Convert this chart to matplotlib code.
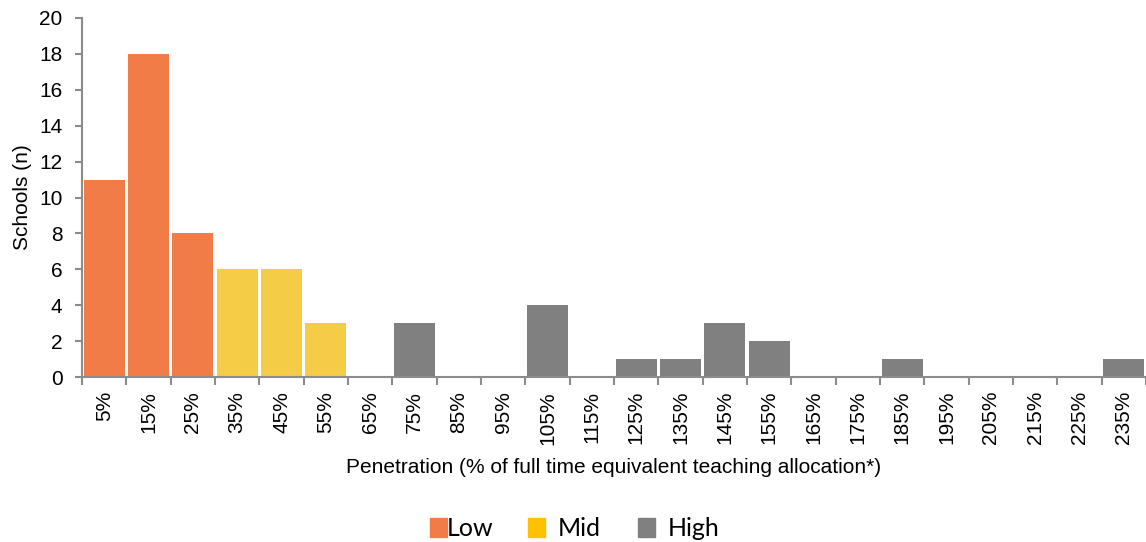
import matplotlib
matplotlib.use("Agg")
import matplotlib.pyplot as plt
from matplotlib.patches import Rectangle

categories = ["5%", "15%", "25%", "35%", "45%", "55%", "65%", "75%", "85%", "95%",
              "105%", "115%", "125%", "135%", "145%", "155%", "165%", "175%",
              "185%", "195%", "205%", "215%", "225%", "235%"]
schools = [11, 18, 8, 6, 6, 3, 0, 3, 0, 0, 4, 0, 1, 1, 3, 2, 0, 0, 1, 0, 0, 0, 0, 1]
groups = ["Low"] * 3 + ["Mid"] * 3 + ["High"] * 18

bar_colors = {"Low": "#F27C48", "Mid": "#F5CC45", "High": "#808080"}
legend_colors = {"Low": "#F27C48", "Mid": "#FFC000", "High": "#808080"}
spine_color = "#8C8C8C"

plt.rcParams["font.family"] = ["Liberation Sans", "DejaVu Sans"]

fig = plt.figure(figsize=(11.46, 5.42), dpi=100)
ax = fig.add_axes([0.0716, 0.3044, 0.9284, 0.6624])

x = list(range(len(categories)))
ax.bar(x, schools, width=0.93, color=[bar_colors[g] for g in groups], zorder=2)

ax.set_xlim(-0.5, len(categories) - 0.5)
ax.set_ylim(0, 20)
ax.set_yticks(range(0, 21, 2))
ax.tick_params(axis="y", labelsize=15, length=5, width=1.5, color=spine_color, pad=9)

# boundary tick marks, labels at bar centres
ax.set_xticks([i - 0.5 for i in range(len(categories) + 1)])
ax.set_xticklabels([])
ax.tick_params(axis="x", which="major", length=6, width=1.5, color=spine_color, direction="out")
ax.set_xticks(x, minor=True)
ax.set_xticklabels(categories, minor=True, rotation=90, fontsize=15)
ax.tick_params(axis="x", which="minor", length=0, pad=10)

for s in ["top", "right"]:
    ax.spines[s].set_visible(False)
for s in ["left", "bottom"]:
    ax.spines[s].set_color(spine_color)
    ax.spines[s].set_linewidth(1.5)

ax.set_ylabel("Schools (n)", fontsize=15, labelpad=5)
ax.set_xlabel("Penetration (% of full time equivalent teaching allocation*)", fontsize=15, labelpad=10)

# legend drawn as figure patches and text
W, H = 1146, 542
legend_items = [("Low", 430, 447), ("Mid", 528, 558), ("High", 638, 668)]
for name, px, tx in legend_items:
    fig.patches.append(Rectangle((px / W, 1 - 537 / H), 17 / W, 19 / H,
                                 transform=fig.transFigure, color=legend_colors[name]))
    fig.text(tx / W, 1 - 528 / H, name, fontsize=18, family=["Lato", "DejaVu Sans"],
             va="center", ha="left")

fig.savefig("out.png", dpi=100)
